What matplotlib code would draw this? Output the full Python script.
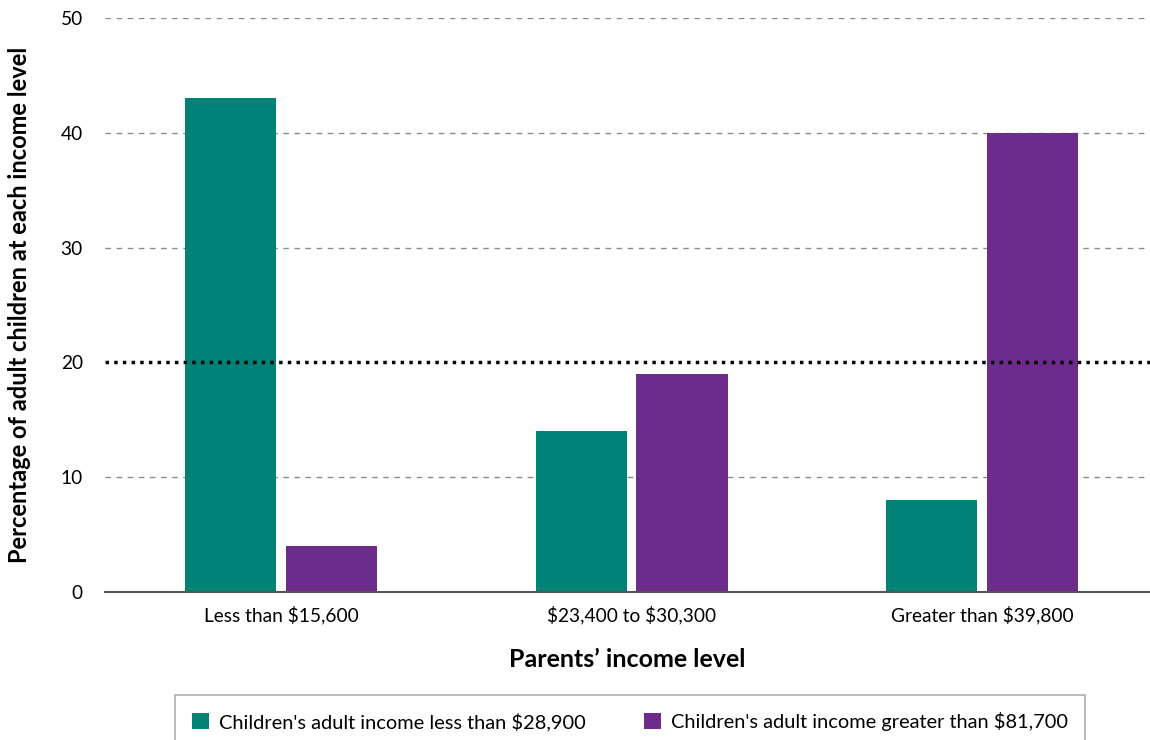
import numpy as np
import matplotlib.pyplot as plt
from matplotlib.patches import Patch

plt.rcParams['font.family'] = ['Lato', 'DejaVu Sans']
plt.rcParams['text.parse_math'] = False

groups = ["Less than $15,600", "$23,400 to $30,300", "Greater than $39,800"]
low_income = [43, 14, 8]
high_income = [4, 19, 40]
series_names = ["Children's adult income less than $28,900",
                "Children's adult income greater than $81,700"]
teal = "#008276"
purple = "#6d2b8c"

fig = plt.figure(figsize=(11.5, 7.4), dpi=100)
ax = fig.add_axes([105/1150, 0.2, 1 - 105/1150, 1 - 18/740 - 0.2])

x = np.arange(len(groups))
w = 0.26
off = 0.144
ax.bar(x - off, low_income, w, color=teal, zorder=3)
ax.bar(x + off, high_income, w, color=purple, zorder=3)

ax.set_xlim(-0.503, 2.48)
ax.set_ylim(0, 50)
ax.set_yticks([0, 10, 20, 30, 40, 50])
for yv in [10, 30, 40, 50]:
    ax.axhline(yv, color="#8a8a8a", lw=1, ls=(0, (4, 4)), zorder=1)
ax.axhline(20, color="black", lw=2.5, ls=(0, (1, 1.5)), zorder=4)

for s in ["top", "right", "left"]:
    ax.spines[s].set_visible(False)
ax.spines["bottom"].set_color("#555555")
ax.spines["bottom"].set_linewidth(1.5)
ax.spines["bottom"].set_zorder(5)
ax.tick_params(axis="both", length=0, labelsize=13.8)
ax.tick_params(axis="y", pad=16)
ax.tick_params(axis="x", pad=10)
ax.set_xticks(x)
ax.set_xticklabels(groups)

ax.set_xlabel("Parents\u2019 income level", fontsize=18, fontweight="bold", labelpad=17)
ax.set_ylabel("Percentage of adult children at each income level", fontsize=17,
              fontweight="bold", labelpad=21)

handles = [Patch(facecolor=teal), Patch(facecolor=purple)]
leg = fig.legend(handles, series_names, ncol=2, loc="upper left",
                 bbox_to_anchor=(175/1150, 1 - 695/740), fontsize=14.4,
                 frameon=True, fancybox=False, edgecolor="#999999",
                 borderpad=0.85, handlelength=0.85, handleheight=0.85,
                 handletextpad=0.5, columnspacing=2.9, borderaxespad=0)
leg.get_frame().set_linewidth(1.2)

fig.savefig("out.png", dpi=100)
